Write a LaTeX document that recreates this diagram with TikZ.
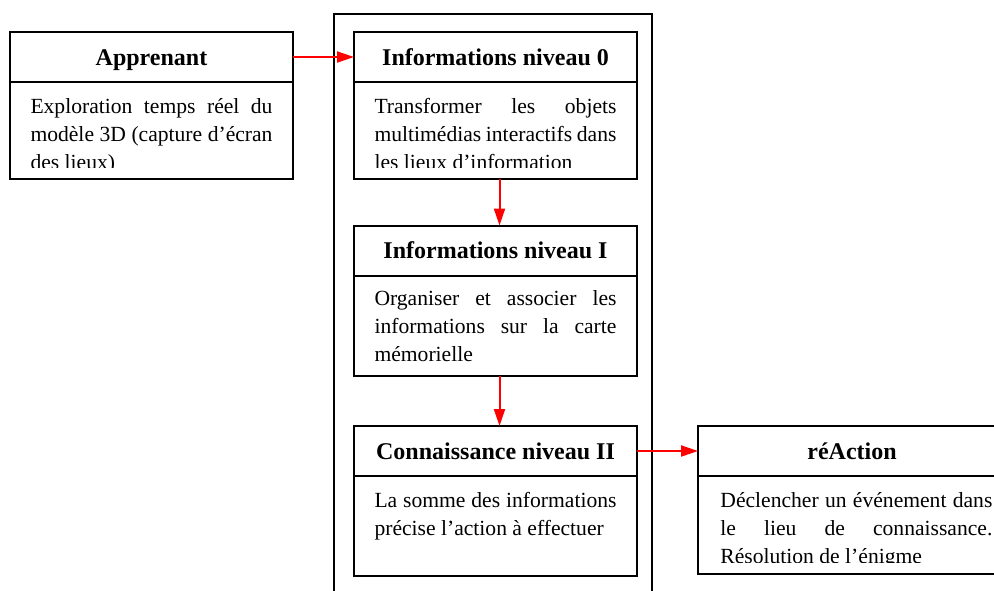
\documentclass[tikz,border=0pt]{standalone}
\usepackage{fontspec}
\setmainfont{Liberation Serif}
\usepackage{tikz}
\usetikzlibrary{arrows.meta,positioning}
\hyphenpenalty=10000
\exhyphenpenalty=10000
\tikzset{
  titre/.style={rectangle, draw=black, line width=1pt, minimum width=#1, minimum height=25pt,
                inner sep=0pt, outer sep=0pt, text height=8pt, text depth=0pt,
                font=\bfseries\fontsize{12}{14}\selectfont},
  titre/.default=141.5pt,
  corps/.style={rectangle, draw=black, line width=1pt, minimum width=141.5pt, minimum height=#1,
                inner sep=0pt, outer sep=0pt},
  corpsL/.style={corps=#1, minimum width=154pt},
  texte/.style={inner sep=0pt, text width=#1, align=justify, font=\fontsize{10.8}{14}\selectfont},
  fleche/.style={-{Triangle[length=8.5pt,width=5.5pt]}, line width=1pt, draw=red},
}
\begin{document}
\begin{tikzpicture}[x=0.5pt, y=-0.5pt, node distance=0pt]
    \useasboundingbox (0,0) rectangle (994,590);
    \clip (0,0) rectangle (994,590);
    % cadre central
    \draw[line width=1pt] (334,14) rectangle (652,620);
    % en-tetes
    \node[titre] (appr) at (151.5,57) {Apprenant};
    \node[titre] (info0) at (495.5,57) {Informations niveau 0};
    \node[titre] (info1) at (495.5,250.5) {Informations niveau I};
    \node[titre] (conn) at (495.5,451) {Connaissance niveau II};
    \node[titre=154pt] (react) at (852,451) {réAction};
    % corps
    \node[corps=48.5pt, below=of appr] (apprC) {};
    \node[corps=48.5pt, below=of info0] (info0C) {};
    \node[corps=50pt, below=of info1] (info1C) {};
    \node[corps=50pt, below=of conn] (connC) {};
    \node[corpsL=49pt, below=of react] (reactC) {};
    \begin{scope}
      \clip (apprC.north west) rectangle ([yshift=6pt]apprC.south east);
      \node[texte=121pt, below=8pt of apprC.north] (apprT) {Exploration temps réel du\linebreak modèle 3D (capture d’écran\linebreak des lieux)};
    \end{scope}
    \begin{scope}
      \clip (info0C.north west) rectangle ([yshift=6pt]info0C.south east);
      \node[texte=121pt, below=8pt of info0C.north] (info0T) {Transformer les objets\linebreak multimédias interactifs dans\linebreak les lieux d’information};
    \end{scope}
    \node[texte=121pt, below=7.5pt of info1C.north] (info1T) {Organiser et associer les\linebreak informations sur la carte\linebreak mémorielle};
    \node[texte=121pt, below=8pt of connC.north] (connT) {La somme des informations\linebreak précise l’action à effectuer};
    \begin{scope}
      \clip (reactC.north west) rectangle ([yshift=6pt]reactC.south east);
      \node[texte=136pt, below right=8pt and 11pt of reactC.north west] (reactT) {Déclencher un événement dans\linebreak le lieu de connaissance.\linebreak Résolution de l’énigme};
    \end{scope}
    % fleches
    \draw[fleche] (appr) -- (info0);
    \draw[fleche] ([xshift=2pt]info0C.south) -- ([xshift=2pt]info1.north);
    \draw[fleche] ([xshift=2pt]info1C.south) -- ([xshift=2pt]conn.north);
    \draw[fleche] (conn) -- (react);
\end{tikzpicture}
\end{document}
